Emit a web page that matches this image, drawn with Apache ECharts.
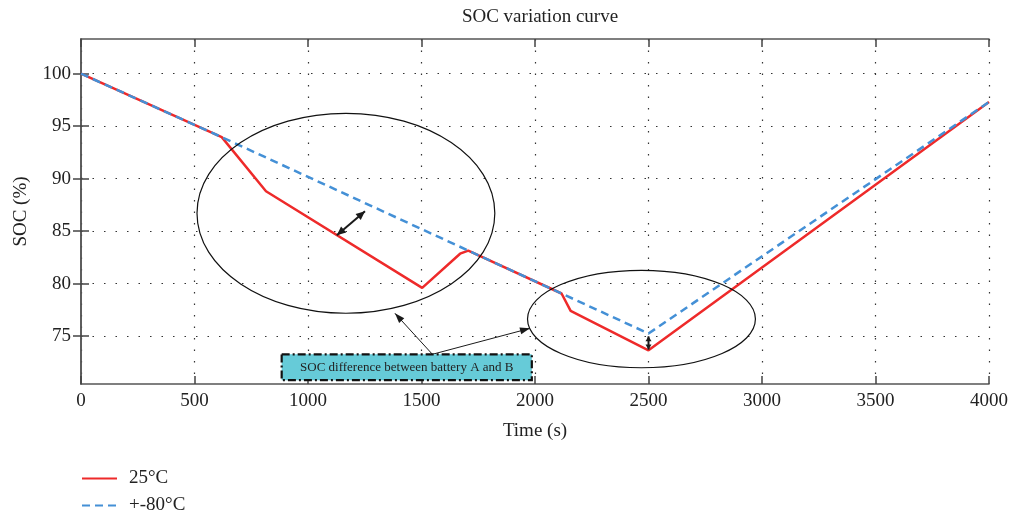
<!DOCTYPE html>
<html><head><meta charset="utf-8">
<script src="https://cdn.jsdelivr.net/npm/echarts@6/dist/echarts.min.js"></script>
<style>html,body{margin:0;padding:0;background:#fff}#c{width:1012px;height:513px}</style>
</head><body><div id="c"></div>
<script>
// ---- data ----
const seriesNames = ['25°C', '+-80°C'];
const redTime =  [0,   620,  815,  1503, 1670,  1706,  2117,  2157, 2500,  4000];
const redSOC  =  [100, 93.95, 88.8, 79.6, 82.85, 83.15, 79.06, 77.4, 73.65, 97.3];
const blueTime = [0,   620,   2500,  4000];
const blueSOC  = [100, 93.95, 75.25, 97.3];
const xTicks = [0, 500, 1000, 1500, 2000, 2500, 3000, 3500, 4000];
const yTicks = [75, 80, 85, 90, 95, 100];
const boxText = 'SOC difference between battery A and B';
// annotation anchors in data coordinates [time, SOC]
const ellipse1 = {c: [1167, 86.7], rx: 656, ry: 9.52};
const ellipse2 = {c: [2469, 76.63], rx: 502, ry: 4.64};
const dArrow1 = [[1127, 84.6], [1251, 86.9]];
const dArrow2 = [[2500, 74.98], [2500, 73.72]];
const boxCorners = [[884, 73.27], [1986, 70.8]];
const pointerStart = [1548, 73.27];
const pointerEnds = [[1383, 77.17], [1978, 75.74]];

const FONT = '"Liberation Serif","DejaVu Serif",serif';
const chart = echarts.init(document.getElementById('c'));
const axisLine = {show: true, lineStyle: {color: '#555', width: 1.5}};
const tickInside = {show: true, inside: true, length: 8, lineStyle: {color: '#444', width: 1.5}};
const dotted = {show: true, lineStyle: {color: '#333', type: [1.5, 10], width: 1.2}};
const yMin = 70.44, yMax = 103.3;
chart.setOption({
  animation: false,
  title: {text: 'SOC variation curve', left: 535, textAlign: 'center', top: 3,
    textStyle: {fontFamily: FONT, fontSize: 19, fontWeight: 'normal', color: '#222'}},
  legend: {orient: 'vertical', left: 81, top: 469, height: 60, padding: 0,
    itemWidth: 35, itemHeight: 14, itemGap: 8,
    itemStyle: {opacity: 0},
    textStyle: {fontFamily: FONT, fontSize: 19, color: '#222', padding: [0,0,0,7]},
    data: seriesNames},
  grid: {left: 81, right: 23, top: 39, bottom: 129, containLabel: false},
  xAxis: [{type: 'value', min: 0, max: 4000, interval: 500, position: 'bottom',
    name: 'Time (s)', nameLocation: 'middle', nameGap: 38,
    nameTextStyle: {fontFamily: FONT, fontSize: 19, color: '#222'},
    axisLine: axisLine, axisTick: tickInside, splitLine: dotted,
    axisLabel: {fontFamily: FONT, fontSize: 19, color: '#222', margin: 8,
      formatter: v => xTicks.includes(v) ? String(v) : ''}},
   {type: 'value', min: 0, max: 4000, interval: 500, position: 'top',
    axisLine: axisLine, axisTick: tickInside, splitLine: {show: false}, axisLabel: {show: false}}],
  yAxis: [{type: 'value', min: yMin, max: yMax, position: 'left',
    name: 'SOC (%)', nameLocation: 'middle', nameGap: 50,
    nameTextStyle: {fontFamily: FONT, fontSize: 19, color: '#222'},
    axisLine: axisLine, axisTick: Object.assign({customValues: yTicks}, tickInside), splitLine: dotted,
    axisLabel: {fontFamily: FONT, fontSize: 19, color: '#222', margin: 10, customValues: yTicks}},
   {type: 'value', min: yMin, max: yMax, position: 'right',
    axisLine: axisLine, axisTick: Object.assign({customValues: yTicks}, tickInside),
    splitLine: {show: false}, axisLabel: {show: false}}],
  series: [
    {name: seriesNames[0], type: 'line', symbol: 'none', z: 2,
      lineStyle: {color: '#ee2a2a', width: 2.5}, itemStyle: {color: '#ee2a2a'},
      data: redTime.map((t, i) => [t, redSOC[i]])},
    {name: seriesNames[1], type: 'line', symbol: 'none', z: 3,
      lineStyle: {color: '#4490d6', width: 2.5, type: [8, 5]}, itemStyle: {color: '#4490d6'},
      data: blueTime.map((t, i) => [t, blueSOC[i]])}
  ]
});

const P = d => chart.convertToPixel({gridIndex: 0}, d);
function head(p0, p1, len, wid) {
  const dx = p1[0]-p0[0], dy = p1[1]-p0[1], L = Math.hypot(dx, dy);
  const ux = dx/L, uy = dy/L, bx = p1[0]-ux*len, by = p1[1]-uy*len;
  return {type: 'polygon', silent: true, z: 20,
    shape: {points: [p1, [bx - uy*wid/2, by + ux*wid/2], [bx + uy*wid/2, by - ux*wid/2]]},
    style: {fill: '#1a1a1a'}};
}
function ell(e) {
  const c = P(e.c), r1 = P([e.c[0]+e.rx, e.c[1]]), r2 = P([e.c[0], e.c[1]+e.ry]);
  return {type: 'ellipse', silent: true, z: 15,
    shape: {cx: c[0], cy: c[1], rx: Math.abs(r1[0]-c[0]), ry: Math.abs(r2[1]-c[1])},
    style: {fill: 'none', stroke: '#111', lineWidth: 1.2}};
}
const g = [ell(ellipse1), ell(ellipse2)];
[dArrow1, dArrow2].forEach((a, i) => {
  const p0 = P(a[0]), p1 = P(a[1]);
  const len = i === 0 ? 9 : 5, wid = i === 0 ? 8 : 6;
  g.push({type: 'line', silent: true, z: 20, shape: {x1: p0[0], y1: p0[1], x2: p1[0], y2: p1[1]},
    style: {stroke: '#1a1a1a', lineWidth: 2}});
  g.push(head(p0, p1, len, wid), head(p1, p0, len, wid));
});
const ps = P(pointerStart);
pointerEnds.forEach(e => {
  const pe = P(e);
  g.push({type: 'line', silent: true, z: 20, shape: {x1: ps[0], y1: ps[1], x2: pe[0], y2: pe[1]},
    style: {stroke: '#1a1a1a', lineWidth: 1}});
  g.push(head(ps, pe, 10, 7));
});
const b0 = P(boxCorners[0]), b1 = P(boxCorners[1]);
g.push({type: 'rect', silent: true, z: 25,
  shape: {x: b0[0], y: b0[1], width: b1[0]-b0[0], height: b1[1]-b0[1]},
  style: {fill: '#66cbd8', stroke: '#111', lineWidth: 2.2, lineDash: [8, 3, 2, 3]}});
g.push({type: 'text', silent: true, z: 26,
  style: {x: (b0[0]+b1[0])/2, y: (b0[1]+b1[1])/2, text: boxText, align: 'center', verticalAlign: 'middle',
    font: '13px ' + FONT, fill: '#222'}});
chart.setOption({graphic: g});
</script></body></html>
